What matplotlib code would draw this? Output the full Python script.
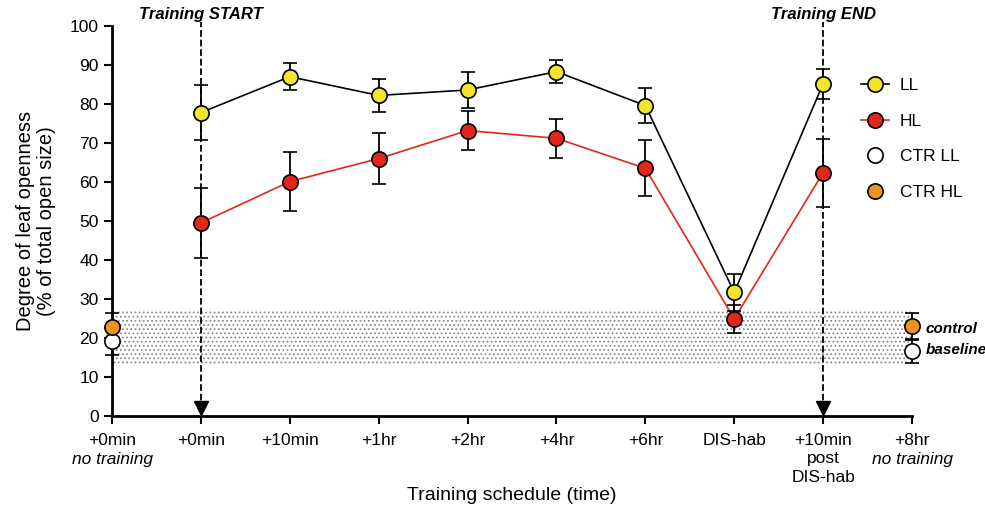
import numpy as np
import matplotlib
matplotlib.use('Agg')
from matplotlib import pyplot as plt

plt.rcParams['font.family'] = ['Liberation Sans', 'DejaVu Sans']

# categories on the x axis
tick_main = ['+0min', '+0min', '+10min', '+1hr', '+2hr', '+4hr', '+6hr',
             'DIS-hab', '+10min\npost\nDIS-hab', '+8hr']
tick_italic = ['no training', '', '', '', '', '', '', '', '', 'no training']

# training series (positions 1..8)
train_x = [1, 2, 3, 4, 5, 6, 7, 8]
ll_mean = [77.8, 87.0, 82.2, 83.6, 88.3, 79.6, 31.7, 85.2]
ll_err = [7.0, 3.5, 4.3, 4.5, 3.0, 4.5, 4.7, 3.8]
hl_mean = [49.5, 60.1, 66.0, 73.2, 71.2, 63.5, 24.9, 62.4]
hl_err = [9.0, 7.5, 6.5, 5.0, 5.0, 7.2, 3.5, 8.7]

# control (no training) points at both ends
ctr_x = [0, 9]
ctr_ll_mean = [19.2, 16.7]
ctr_ll_err = [3.5, 3.0]
ctr_hl_mean = [22.9, 23.0]
ctr_hl_err = [3.5, 3.5]

# control baseline band
band_low = 13.3
band_high = 26.9

train_start = 1
train_end = 8

yellow = '#f2e52b'
red = '#e2261c'
orange = '#f0931e'

fig = plt.figure(figsize=(9.85, 5.12), dpi=100)
ax = fig.add_axes([112/985, 96/512, 800/985, 390/512])

# baseline band
plt.rcParams['hatch.linewidth'] = 0.8
ax.fill_between([0, 9], band_low, band_high, facecolor='none',
                edgecolor='#8a8a8a', hatch='....', linewidth=0, zorder=1)

ms = 11
ekw = dict(ecolor='black', elinewidth=1.3, capsize=5, capthick=1.3)

ax.errorbar(train_x, ll_mean, yerr=ll_err, color='black', lw=1.2,
            marker='o', ms=ms, mfc=yellow, mec='black', mew=1.2, zorder=4, **ekw)
ax.errorbar(train_x, hl_mean, yerr=hl_err, color=red, lw=1.2,
            marker='o', ms=ms, mfc=red, mec='black', mew=1.2, zorder=3, **ekw)
ax.errorbar(ctr_x, ctr_ll_mean, yerr=ctr_ll_err, ls='none',
            marker='o', ms=ms, mfc='white', mec='black', mew=1.2, zorder=4,
            clip_on=False, **ekw)
ax.errorbar(ctr_x, ctr_hl_mean, yerr=ctr_hl_err, ls='none',
            marker='o', ms=ms, mfc=orange, mec='black', mew=1.2, zorder=4,
            clip_on=False, **ekw)

# legend handles
l1, = ax.plot([], [], color='black', lw=1.2, marker='o', ms=ms, mfc=yellow, mec='black', mew=1.2)
l2, = ax.plot([], [], color=red, lw=1.2, marker='o', ms=ms, mfc=red, mec='black', mew=1.2)
l3, = ax.plot([], [], ls='none', marker='o', ms=ms, mfc='white', mec='black', mew=1.2)
l4, = ax.plot([], [], ls='none', marker='o', ms=ms, mfc=orange, mec='black', mew=1.2)
ax.legend([l1, l2, l3, l4], ['LL', 'HL', 'CTR LL', 'CTR HL'], frameon=False,
          loc='upper left', bbox_to_anchor=(0.928, 0.885), fontsize=12.5,
          handlelength=1.6, labelspacing=1.18, handletextpad=0.6, borderaxespad=0)

# training start/end arrows
for xv, lab in [(train_start, 'Training START'), (train_end, 'Training END')]:
    ax.plot([xv, xv], [1.5, 101.0], color='black', ls='--', lw=1.3, clip_on=False, zorder=2)
    ax.plot([xv], [2.0], marker='v', ms=10, color='black', clip_on=False, zorder=2)
    ax.text(xv, 102.9, lab, ha='center', va='center', fontsize=12,
            fontweight='bold', style='italic')

ax.text(9.15, 22.3, 'control', ha='left', va='center', fontsize=11,
        fontweight='bold', style='italic')
ax.text(9.15, 17.0, 'baseline', ha='left', va='center', fontsize=11,
        fontweight='bold', style='italic')

ax.set_xlim(0, 9)
ax.set_ylim(0, 100)
ax.set_yticks(np.arange(0, 101, 10))
ax.set_xticks(range(len(tick_main)))
ax.set_xticklabels(tick_main, fontsize=12.5, linespacing=1.3, va='top')
for i, t in enumerate(tick_italic):
    if t:
        ax.text(i, -0.092, t, transform=ax.get_xaxis_transform(), ha='center',
                va='top', fontsize=12.5, style='italic')
ax.tick_params(axis='both', direction='out', length=6, width=1.5, labelsize=12.5)
ax.tick_params(axis='x', pad=6)
for s in ['top', 'right']:
    ax.spines[s].set_visible(False)
for s in ['left', 'bottom']:
    ax.spines[s].set_linewidth(2)

ax.set_ylabel('Degree of leaf openness\n(% of total open size)', fontsize=14.5,
              labelpad=10, linespacing=1.1)
ax.set_xlabel('Training schedule (time)', fontsize=14)
ax.xaxis.set_label_coords(0.5, -0.182)

fig.savefig('out.png', dpi=100)
